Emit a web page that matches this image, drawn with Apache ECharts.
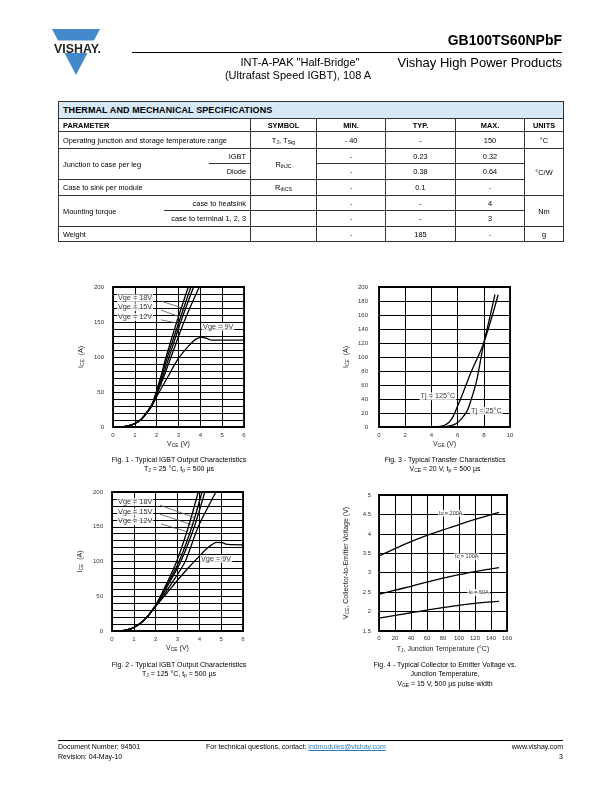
<!DOCTYPE html>
<html><head><meta charset="utf-8">
<script src="https://cdn.jsdelivr.net/npm/echarts@6/dist/echarts.min.js"></script>
<style>
body{margin:0;background:#fff;}
#page{position:relative;width:612px;height:792px;overflow:hidden;font-family:'Liberation Sans',Arial,sans-serif;color:#000;}
#chart{position:absolute;left:0;top:0;width:612px;height:792px;}
.t{position:absolute;white-space:nowrap;line-height:1;}
.sb{font-size:0.7em;position:relative;top:0.25em;}
.cap{position:absolute;width:300px;text-align:center;font-size:7px;line-height:9.5px;white-space:nowrap;}
table{position:absolute;left:58px;top:101px;width:505px;border-collapse:collapse;table-layout:fixed;font-size:7.4px;}
td{border:0.8px solid #333;padding:0 4px;white-space:nowrap;overflow:hidden;}
.c{text-align:center;} .r{text-align:right;}
.hd td{font-weight:bold;}
</style></head>
<body><div id="page">
<div id="chart"></div>

<svg class="t" style="left:0;top:0" width="130" height="90">
<polygon points="52,29 100,29 76,75" fill="#4389cc"/>
<rect x="40" y="40.5" width="70" height="12.5" fill="#fff"/>
<text x="54" y="52.5" font-family="Liberation Sans, Arial" font-weight="bold" font-size="13.5" textLength="47" lengthAdjust="spacingAndGlyphs" fill="#222">VISHAY.</text>
</svg>
<div class="t" style="right:50px;top:33px;font-size:14px;font-weight:bold;">GB100TS60NPbF</div>
<div class="t" style="left:132px;top:52px;width:430px;height:1.2px;background:#000;"></div>
<div class="t" style="right:50px;top:56px;font-size:13px;">Vishay High Power Products</div>
<div class="t" style="left:150px;width:300px;text-align:center;top:56.5px;font-size:11px;">INT-A-PAK "Half-Bridge"</div>
<div class="t" style="left:148px;width:300px;text-align:center;top:69.5px;font-size:11px;">(Ultrafast Speed IGBT), 108 A</div>

<table>
<colgroup><col style="width:105px"><col style="width:45px"><col style="width:42px"><col style="width:66px"><col style="width:69px"><col style="width:70px"><col style="width:69px"><col style="width:39px"></colgroup>
<tr style="height:17px;background:#d6e8f5;"><td colspan="8" style="font-weight:900;font-size:9px;letter-spacing:0.1px;">THERMAL AND MECHANICAL SPECIFICATIONS</td></tr>
<tr class="hd" style="height:13px;"><td colspan="3">PARAMETER</td><td class="c">SYMBOL</td><td class="c">MIN.</td><td class="c">TYP.</td><td class="c">MAX.</td><td class="c">UNITS</td></tr>
<tr style="height:17px;"><td colspan="3">Operating junction and storage temperature range</td><td class="c">T<span class="sb">J</span>, T<span class="sb">Stg</span></td><td class="c">- 40</td><td class="c">-</td><td class="c">150</td><td class="c">°C</td></tr>
<tr style="height:15px;"><td colspan="2" rowspan="2" style="border-right:none;">Junction to case per leg</td><td class="r" style="border-left:none;">IGBT</td><td class="c" rowspan="2">R<span class="sb">thJC</span></td><td class="c">-</td><td class="c">0.23</td><td class="c">0.32</td><td class="c" rowspan="3">°C/W</td></tr>
<tr style="height:16px;"><td class="r" style="border-left:none;">Diode</td><td class="c">-</td><td class="c">0.38</td><td class="c">0.64</td></tr>
<tr style="height:16px;"><td colspan="3">Case to sink per module</td><td class="c">R<span class="sb">thCS</span></td><td class="c">-</td><td class="c">0.1</td><td class="c">-</td></tr>
<tr style="height:15px;"><td rowspan="2" style="border-right:none;">Mounting torque</td><td colspan="2" class="r" style="border-left:none;">case to heatsink</td><td></td><td class="c">-</td><td class="c">-</td><td class="c">4</td><td class="c" rowspan="2">Nm</td></tr>
<tr style="height:16px;"><td colspan="2" class="r" style="border-left:none;">case to terminal 1, 2, 3</td><td></td><td class="c">-</td><td class="c">-</td><td class="c">3</td></tr>
<tr style="height:15px;"><td colspan="3">Weight</td><td></td><td class="c">-</td><td class="c">185</td><td class="c">-</td><td class="c">g</td></tr>
</table>

<div class="cap" style="left:29px;top:454.5px;">Fig. 1 - Typical IGBT Output Characteristics<br>T<span class="sb">J</span> = 25 °C, t<span class="sb">p</span> = 500 µs</div>
<div class="cap" style="left:295px;top:454.5px;">Fig. 3 - Typical Transfer Characteristics<br>V<span class="sb">CE</span> = 20 V, t<span class="sb">p</span> = 500 µs</div>
<div class="cap" style="left:29px;top:659.5px;">Fig. 2 - Typical IGBT Output Characteristics<br>T<span class="sb">J</span> = 125 °C, t<span class="sb">p</span> = 500 µs</div>
<div class="cap" style="left:295px;top:659.5px;">Fig. 4 - Typical Collector to Emitter Voltage vs.<br>Junction Temperature,<br>V<span class="sb">GE</span> = 15 V, 500 µs pulse width</div>

<div class="t" style="left:58px;top:740px;width:505px;height:1px;background:#000;"></div>
<div class="t" style="left:58px;top:743px;font-size:7px;">Document Number: 94501</div>
<div class="t" style="left:58px;top:753px;font-size:7px;">Revision: 04-May-10</div>
<div class="t" style="left:206px;top:743px;font-size:7px;">For technical questions, contact: <span style="color:#2f7fc4;text-decoration:underline;">indmodules@vishay.com</span></div>
<div class="t" style="right:49px;top:743px;font-size:7px;">www.vishay.com</div>
<div class="t" style="right:49px;top:753px;font-size:7px;">3</div>
</div>

<script>
// ---------- DATA ----------
// Fig. 1  (TJ = 25 °C)  [VCE (V), ICE (A)]
const fig1Vge18 = [[0.4,0],[0.7,1.5],[1,5],[1.3,11],[1.6,23],[1.8,33],[1.98,50],[2.2,73],[2.43,100],[2.92,150],[3.45,200]];
const fig1Vge15 = [[0.4,0],[0.7,1.5],[1,5],[1.3,11],[1.6,23],[1.8,33],[2.0,50],[2.23,73],[2.49,100],[3.02,150],[3.57,200]];
const fig1Vge12 = [[0.4,0],[0.7,1.5],[1,5],[1.3,11],[1.6,23],[1.8,33],[2.02,50],[2.27,72],[2.57,100],[3.1,150],[3.69,200]];
const fig1Vge10 = [[0.4,0],[0.7,1.5],[1,5],[1.3,11],[1.6,23],[1.8,33],[2.05,50],[2.33,72],[2.66,100],[3.25,150],[3.95,200]];
const fig1Vge9  = [[0.4,0],[0.7,1.5],[1,5],[1.3,11],[1.6,22],[1.8,31],[2.05,46],[2.5,71],[3,98],[3.5,117],[3.8,125.5],[4.05,128],[4.3,126.5],[4.5,124],[5,124],[6,124]];
// Fig. 2  (TJ = 125 °C)
const fig2Vge18 = [[0.37,0],[0.7,1.5],[1,5],[1.3,11],[1.6,20],[1.85,30],[2.05,40],[2.5,68],[2.96,100],[3.5,150],[3.95,200]];
const fig2Vge15 = [[0.37,0],[0.7,1.5],[1,5],[1.3,11],[1.6,20],[1.85,30],[2.07,40],[2.55,68],[3.07,100],[3.66,150],[4.12,200]];
const fig2Vge12 = [[0.37,0],[0.7,1.5],[1,5],[1.3,11],[1.6,20],[1.85,30],[2.08,40],[2.6,68],[3.15,100],[3.77,150],[4.25,200]];
const fig2Vge10 = [[0.37,0],[0.7,1.5],[1,5],[1.3,11],[1.6,20],[1.85,30],[2.1,40],[2.7,67],[3.35,100],[3.95,150],[4.76,200]];
const fig2Vge9  = [[0.37,0],[0.7,1.5],[1,5],[1.3,11],[1.6,20],[1.85,30],[2.1,39],[2.5,54],[3,73],[3.5,91],[3.95,106],[4.4,120],[4.8,127.5],[5.05,127],[5.3,124.5],[6,124]];
// Fig. 3  transfer  [VGE (V), ICE (A)]
const fig3Tj125 = [[3.5,0],[4.5,0.5],[5,2.5],[5.3,6],[5.6,13],[6.0,30],[6.5,53],[7,77],[7.5,98],[7.96,118],[8.5,150],[9.1,189]];
const fig3Tj25  = [[4.5,0],[5,0.5],[5.5,2],[5.9,5],[6.3,12],[6.7,22],[7.0,37],[7.45,66],[7.96,116],[8.4,152],[8.85,189]];
// Fig. 4  VCE vs TJ
const fig4Tj     = [0,20,40,60,80,100,120,150];
const fig4Ic200  = [3.43,3.62,3.8,3.96,4.1,4.24,4.37,4.55];
const fig4Ic100  = [2.44,2.55,2.65,2.76,2.86,2.95,3.03,3.13];
const fig4Ic50   = [1.83,1.9,1.97,2.04,2.1,2.16,2.21,2.26];
// tick labels
const fig1XTicks = [0,1,2,3,4,5,6];
const fig1YTicks = [0,50,100,150,200];

// ---------- CHART ----------
const FF = "'Liberation Sans', Arial, sans-serif";
const chart = echarts.init(document.getElementById('chart'));
const richName = {
  n:{fontSize:7,color:'#222',fontFamily:FF},
  s:{fontSize:5,color:'#222',fontFamily:FF,padding:[3,0,0,0]}
};
const gridBase = {show:true,borderColor:'#000',borderWidth:1.8,backgroundColor:'transparent',containLabel:false};
const grids = [
  Object.assign({left:113,top:287,width:131,height:140},gridBase),
  Object.assign({left:112,top:492,width:131,height:139},gridBase),
  Object.assign({left:379,top:287,width:131,height:140},gridBase),
  Object.assign({left:379,top:495,width:128,height:136},gridBase)
];
function axis(o){
  return Object.assign({
    type:'value',
    axisLine:{show:false},axisTick:{show:false},
    splitLine:{show:true,lineStyle:{color:'#000',width:1}},
    axisLabel:{fontSize:6,color:'#333',fontFamily:FF},
    nameLocation:'middle',nameTextStyle:{rich:richName}
  },o);
}
const only = ticks => v => ticks.includes(v) ? String(v) : '';
const xAxes = [
  axis({gridIndex:0,min:0,max:6,interval:1,name:'{n|V}{s|CE}{n| (V)}',nameGap:13,axisLabel:{fontSize:6,color:'#333',margin:5,formatter:only(fig1XTicks)}}),
  axis({gridIndex:1,min:0,max:6,interval:1,name:'{n|V}{s|CE}{n| (V)}',nameGap:13,axisLabel:{fontSize:6,color:'#333',margin:5}}),
  axis({gridIndex:2,min:0,max:10,interval:2,name:'{n|V}{s|GE}{n| (V)}',nameGap:13,axisLabel:{fontSize:6,color:'#333',margin:5}}),
  axis({gridIndex:3,min:0,max:160,interval:20,name:'{n|T}{s|J}{n|, Junction Temperature (°C)}',nameGap:14,axisLabel:{fontSize:6,color:'#333',margin:4}})
];
const yAxes = [
  axis({gridIndex:0,min:0,max:200,interval:10,name:'{n|I}{s|CE}{n|  (A)}',nameGap:28,axisLabel:{fontSize:6,color:'#333',margin:9,formatter:only(fig1YTicks)}}),
  axis({gridIndex:1,min:0,max:200,interval:10,name:'{n|I}{s|CE}{n|  (A)}',nameGap:28,axisLabel:{fontSize:6,color:'#333',margin:9,formatter:only(fig1YTicks)}}),
  axis({gridIndex:2,min:0,max:200,interval:20,name:'{n|I}{s|CE}{n|  (A)}',nameGap:29,axisLabel:{fontSize:6,color:'#333',margin:11}}),
  axis({gridIndex:3,min:1.5,max:5,interval:0.5,name:'{n|V}{s|CE}{n|, Collector-to-Emitter Voltage (V)}',nameGap:29,axisLabel:{fontSize:6,color:'#333',margin:8}})
];
function curve(gi,data){
  return {type:'line',xAxisIndex:gi,yAxisIndex:gi,data:data,symbol:'none',smooth:0.3,
    lineStyle:{color:'#000',width:1.3},silent:true,z:3};
}
function leader(gi,pts){
  return {type:'line',xAxisIndex:gi,yAxisIndex:gi,data:pts,symbol:'none',
    lineStyle:{color:'#555',width:0.8},silent:true,z:2};
}
function labels(gi,items,fs){
  return {type:'scatter',xAxisIndex:gi,yAxisIndex:gi,symbolSize:0,silent:true,z:4,
    data:items.map(it=>({value:it.at,label:{show:true,formatter:it.text,position:it.pos||'right',distance:0,
      fontSize:fs,color:'#000',fontFamily:FF,backgroundColor:'#fff',padding:[1,1,0,1]}}))};
}
const pair = (xs,ys)=>xs.map((x,i)=>[x,ys[i]]);

const series = [
  curve(0,fig1Vge18),curve(0,fig1Vge15),curve(0,fig1Vge12),curve(0,fig1Vge10),curve(0,fig1Vge9),
  curve(1,fig2Vge18),curve(1,fig2Vge15),curve(1,fig2Vge12),curve(1,fig2Vge10),curve(1,fig2Vge9),
  curve(2,fig3Tj125),curve(2,fig3Tj25),
  curve(3,pair(fig4Tj,fig4Ic200)),curve(3,pair(fig4Tj,fig4Ic100)),curve(3,pair(fig4Tj,fig4Ic50)),
  leader(0,[[2.2,180],[3.15,170]]),leader(0,[[2.2,167],[3.0,158]]),leader(0,[[2.2,153],[3.0,148]]),
  leader(1,[[2.2,181],[3.8,163]]),leader(1,[[2.2,168],[3.65,153]]),leader(1,[[2.25,154],[3.42,143]]),
  labels(0,[{text:'Vge = 18V',at:[0.18,184]},{text:'Vge = 15V',at:[0.18,171]},{text:'Vge = 12V',at:[0.18,157]},{text:'Vge = 9V',at:[4.08,143]}],7.3),
  labels(1,[{text:'Vge = 18V',at:[0.23,185.6]},{text:'Vge = 15V',at:[0.23,171]},{text:'Vge = 12V',at:[0.23,158]},{text:'Vge = 9V',at:[4.03,103.6]}],7.3),
  labels(2,[{text:'Tj = 125°C',at:[5.9,44],pos:'left'},{text:'Tj = 25°C',at:[6.95,23]}],7.3),
  labels(3,[{text:'Ic = 200A',at:[73.8,4.53]},{text:'Ic = 100A',at:[93.8,3.41]},{text:'Ic = 50A',at:[110.5,2.49]}],5.5)
];
chart.setOption({animation:false,grid:grids,xAxis:xAxes,yAxis:yAxes,series:series});
</script>
</body></html>
